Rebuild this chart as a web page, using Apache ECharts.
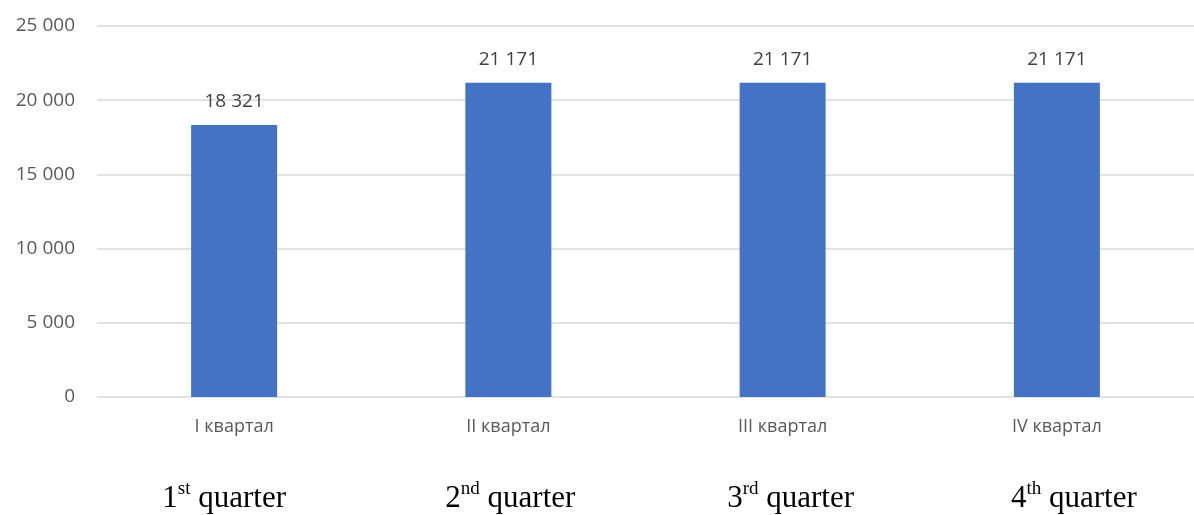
<!DOCTYPE html>
<html>
<head>
<meta charset="utf-8">
<script src="https://cdn.jsdelivr.net/npm/echarts@6/dist/echarts.min.js"></script>
<style>
html,body{margin:0;padding:0;background:#fff;}
#chart{width:1194px;height:515px;}
</style>
</head>
<body>
<div id="chart"></div>
<script>
var categories = ['I квартал', 'II квартал', 'III квартал', 'IV квартал'];
var values = [18321, 21171, 21171, 21171];
var enNumbers = ['1', '2', '3', '4'];
var enSuffixes = ['st', 'nd', 'rd', 'th'];
var enWord = 'quarter';
var yTicks = [0, 5000, 10000, 15000, 20000, 25000];

// horizontal nudges of the English captions (layout only)
var enShift = [-10, 2, 8, 17];

var enLabels = enNumbers.map(function (n, i) { return n + '|' + enSuffixes[i]; });

function fmtNum(v) {
  return String(v).replace(/\B(?=(\d{3})+(?!\d))/g, ' ');
}

var chart = echarts.init(document.getElementById('chart'));
chart.setOption({
  animation: false,
  backgroundColor: '#ffffff',
  grid: { left: 97, right: 0, top: 26, bottom: 118 },
  xAxis: [{
    type: 'category',
    data: categories,
    axisLine: { show: false },
    axisTick: { show: false },
    axisLabel: {
      margin: 21,
      color: '#595959',
      fontFamily: 'Open Sans',
      fontSize: 18
    }
  }, {
    type: 'category',
    data: enLabels,
    position: 'bottom',
    axisLine: { show: false },
    axisTick: { show: false },
    axisLabel: {
      margin: 83,
      formatter: function (v, i) {
        var p = v.split('|');
        var s = enShift[i] || 0;
        var pl = s > 0 ? 2 * s : 0, pr = s < 0 ? -2 * s : 0;
        return '{l' + i + '|}{n|' + p[0] + '}{s|' + p[1] + '}{n| ' + enWord + '}{r' + i + '|}';
      },
      rich: (function () {
        var r = {
          n: { fontFamily: 'Liberation Serif', fontSize: 31, color: '#000', lineHeight: 34, verticalAlign: 'bottom' },
          s: { fontFamily: 'Liberation Serif', fontSize: 19, color: '#000', lineHeight: 34, verticalAlign: 'top', padding: [0, 0, 12, 0] }
        };
        enShift.forEach(function (s, i) {
          r['l' + i] = { width: s > 0 ? 2 * s : 0, fontSize: 1 };
          r['r' + i] = { width: s < 0 ? -2 * s : 0, fontSize: 1 };
        });
        return r;
      })()
    }
  }],
  yAxis: {
    type: 'value',
    min: yTicks[0],
    max: yTicks[yTicks.length - 1],
    interval: yTicks[1] - yTicks[0],
    axisLine: { show: false },
    axisTick: { show: false },
    splitLine: { lineStyle: { color: '#d9d9d9', width: 1.5 } },
    axisLabel: {
      margin: 22,
      color: '#595959',
      fontFamily: 'Open Sans',
      fontSize: 19,
      formatter: function (v) { return fmtNum(v); }
    }
  },
  series: [{
    type: 'bar',
    xAxisIndex: 0,
    data: values,
    barWidth: 86,
    itemStyle: { color: '#4472c4' },
    label: {
      show: true,
      position: 'top',
      distance: 14,
      color: '#404040',
      fontFamily: 'Open Sans',
      fontSize: 19,
      formatter: function (p) { return fmtNum(p.value); }
    }
  }]
});
</script>
</body>
</html>
